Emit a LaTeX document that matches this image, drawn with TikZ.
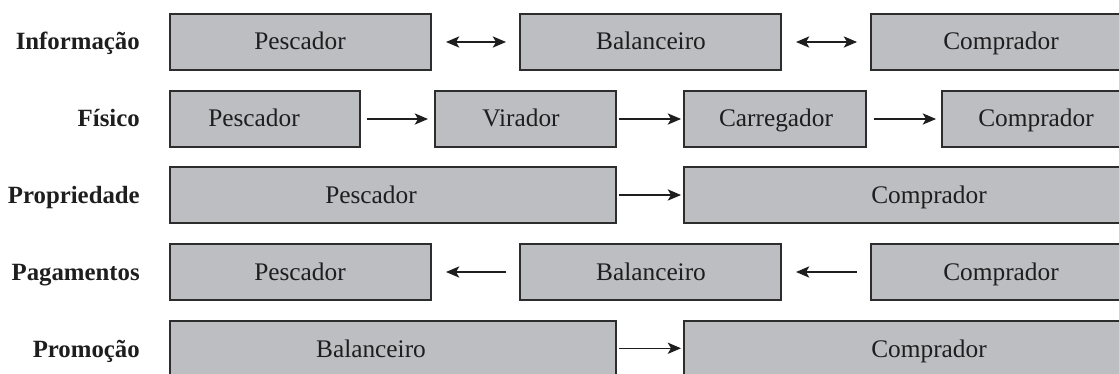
\documentclass[tikz,border=0pt]{standalone}
\usepackage{fontspec}
\setmainfont{Liberation Serif}
\usetikzlibrary{arrows.meta,fit}
\definecolor{boxfill}{RGB}{189,190,194}
\definecolor{boxline}{RGB}{45,45,45}
\definecolor{ink}{RGB}{30,30,30}
\begin{document}
\begin{tikzpicture}[x=0.75pt,y=-0.75pt,
  box/.style={draw=boxline, fill=boxfill, line width=1pt, inner sep=0pt, outer sep=0pt},
  txt/.style={font=\fontsize{19}{22}\selectfont, text=ink, inner sep=0pt, anchor=base},
  rowlbl/.style={font=\fontsize{18.6}{22}\selectfont\bfseries, text=ink, inner sep=0pt, anchor=base east},
  conn/.style={line width=0.9pt, draw=ink, -{Stealth[length=10pt,width=8.5pt,inset=2.5pt]}},
  dconn/.style={line width=0.9pt, draw=ink, {Stealth[length=10pt,width=8.5pt,inset=2.5pt]}-{Stealth[length=10pt,width=8.5pt,inset=2.5pt]}},
]
\useasboundingbox (0,0) rectangle (1119,374);
\clip (0,0) rectangle (1119,374);

% row labels
\node[rowlbl] (l1) at (140,50) {Informação};
\node[rowlbl] (l2) at (140,127) {Físico};
\node[rowlbl] (l3) at (140,203) {Propriedade};
\node[rowlbl] (l4) at (140,280) {Pagamentos};
\node[rowlbl] (l5) at (140,357) {Promoção};

% row 1: Informacao
\node[box, fit={(170,14)(431,70)}] (r1a) {};
\node[box, fit={(520,14)(781,70)}] (r1b) {};
\node[box, fit={(871,14)(1150,70)}] (r1c) {};
\node[txt] (t1a) at (300,50) {Pescador};
\node[txt] (t1b) at (651,50) {Balanceiro};
\node[txt] (t1c) at (1001,50) {Comprador};
\draw[dconn] ([xshift=15*0.75pt]r1a.east) -- ([xshift=-14*0.75pt]r1b.west);
\draw[dconn] ([xshift=15*0.75pt]r1b.east) -- ([xshift=-14*0.75pt]r1c.west);

% row 2: Fisico
\node[box, fit={(170,91)(360,147)}] (r2a) {};
\node[box, fit={(435,91)(616,147)}] (r2b) {};
\node[box, fit={(684,91)(866,147)}] (r2c) {};
\node[box, fit={(942,91)(1150,147)}] (r2d) {};
\node[txt] (t2a) at (254,127) {Pescador};
\node[txt] (t2b) at (521,127) {Virador};
\node[txt] (t2c) at (776,127) {Carregador};
\node[txt] (t2d) at (1036,127) {Comprador};
\draw[conn] ([xshift=7*0.75pt]r2a.east) -- ([xshift=-7*0.75pt]r2b.west);
\draw[conn] ([xshift=3*0.75pt]r2b.east) -- ([xshift=-3*0.75pt]r2c.west);
\draw[conn] ([xshift=8*0.75pt]r2c.east) -- ([xshift=-6*0.75pt]r2d.west);

% row 3: Propriedade
\node[box, fit={(170,167)(616,223)}] (r3a) {};
\node[box, fit={(684,167)(1150,223)}] (r3b) {};
\node[txt] (t3a) at (371,203) {Pescador};
\node[txt] (t3b) at (929,203) {Comprador};
\draw[conn] ([xshift=3*0.75pt]r3a.east) -- ([xshift=-3*0.75pt]r3b.west);

% row 4: Pagamentos
\node[box, fit={(170,244)(431,300)}] (r4a) {};
\node[box, fit={(520,244)(781,300)}] (r4b) {};
\node[box, fit={(871,244)(1150,300)}] (r4c) {};
\node[txt] (t4a) at (300,280) {Pescador};
\node[txt] (t4b) at (651,280) {Balanceiro};
\node[txt] (t4c) at (1001,280) {Comprador};
\draw[conn] ([xshift=-14*0.75pt]r4b.west) -- ([xshift=15*0.75pt]r4a.east);
\draw[conn] ([xshift=-14*0.75pt]r4c.west) -- ([xshift=15*0.75pt]r4b.east);

% row 5: Promocao
\node[box, fit={(170,321)(616,375.5)}] (r5a) {};
\node[box, fit={(684,321)(1150,375.5)}] (r5b) {};
\node[txt] (t5a) at (371,357) {Balanceiro};
\node[txt] (t5b) at (929,357) {Comprador};
\draw[conn] ([xshift=3*0.75pt]r5a.east) -- ([xshift=-3*0.75pt]r5b.west);
\end{tikzpicture}
\end{document}
